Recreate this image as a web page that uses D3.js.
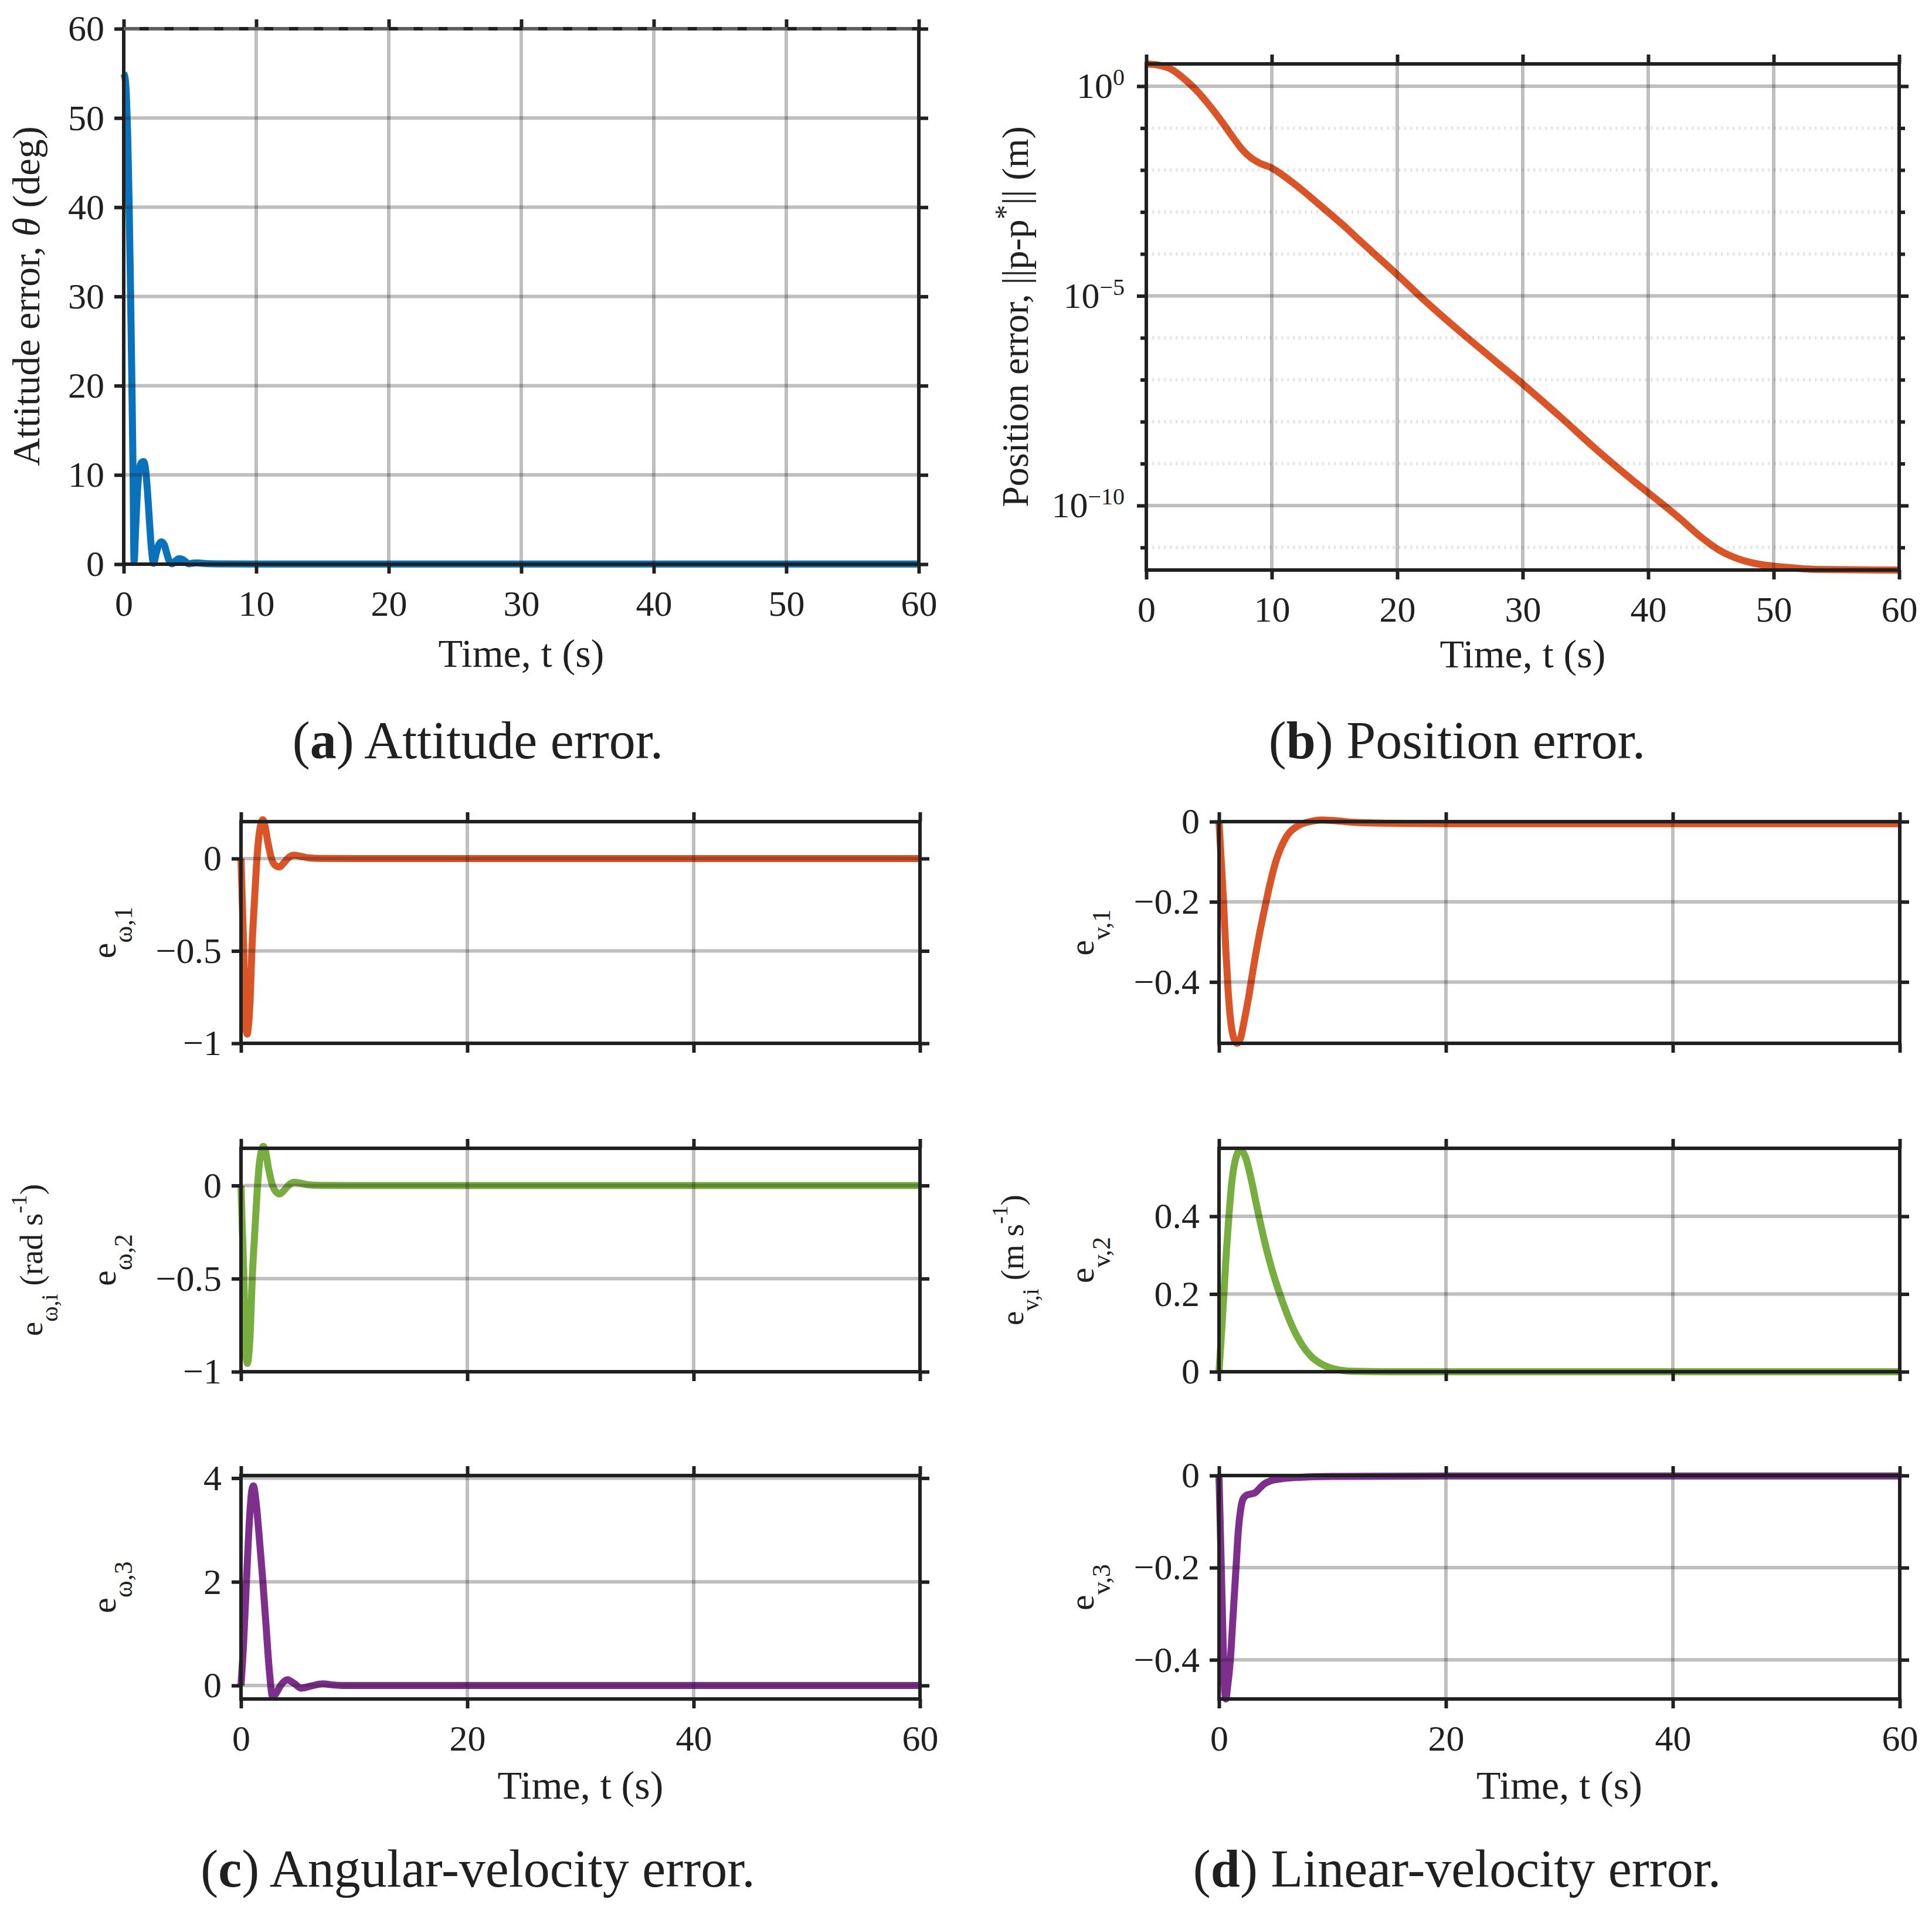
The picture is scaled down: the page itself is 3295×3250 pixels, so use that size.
<!DOCTYPE html>
<html>
<head>
<meta charset="utf-8">
<script src="https://cdn.jsdelivr.net/npm/d3@7"></script>
<style>
  body { margin: 0; background: #fff; }
  svg text { font-family: "Liberation Serif", "Times New Roman", serif; fill: #202020; }
</style>
</head>
<body>
<svg id="fig"></svg>
<script>
// ---- data ----
// (a) attitude error, deg
const attT = [0, 0.1, 0.2, 0.3, 0.4, 0.5, 0.6, 0.7, 0.78, 0.9, 1.05, 1.2, 1.35, 1.5, 1.65, 1.8, 1.95, 2.1, 2.25,
  2.45, 2.65, 2.85, 3.05, 3.25, 3.45, 3.65, 3.9, 4.15, 4.4, 4.65, 4.9, 5.15, 5.5, 6, 7, 10, 20, 30, 40, 50, 60];
const attV = [55, 54.5, 52.5, 48, 41, 32, 22, 11, 0.3, 4, 8.5, 10.8, 11.4, 11.5, 10.6, 8, 4.6, 1.6, 0.1,
  1.2, 2.2, 2.5, 2.2, 1.2, 0.3, 0.05, 0.35, 0.6, 0.55, 0.3, 0.05, 0.1, 0.15, 0.08, 0.04, 0.02, 0.01, 0.01, 0.01, 0.01, 0.01];

// (b) position error norm, m (log axis)
const posT = [0, 1, 2, 3, 4, 5, 6, 7, 7.7, 8.3, 9, 10, 11, 12, 14, 16, 17, 18, 20, 22, 25,
  28, 30, 33, 36, 39, 41, 42.6, 44.2, 45.7, 47.3, 48.8, 50.4, 53.5, 60];
const posV = [3.39, 3.16, 2.51, 1.51, 0.79, 0.355, 0.145, 0.055, 0.0295, 0.02, 0.0148, 0.0112, 7.1e-3, 4.2e-3,
  1.32e-3, 4.0e-4, 2.1e-4, 1.12e-4, 3.2e-5, 8.7e-6, 1.41e-6, 2.5e-7, 7.9e-8, 1.3e-8, 2.0e-9, 3.5e-10,
  1.17e-10, 4.7e-11, 1.78e-11, 8.5e-12, 5.2e-12, 4.0e-12, 3.5e-12, 3.0e-12, 2.9e-12];

// (c) angular-velocity error components, rad/s
const w1T = [0, 0.1, 0.23, 0.36, 0.46, 0.55, 0.65, 0.78, 0.98, 1.2, 1.41, 1.6, 1.78, 1.93, 2.1, 2.4, 2.7, 3.0,
  3.4, 3.8, 4.2, 4.7, 5.3, 6, 7, 10, 20, 40, 60];
const w1V = [0, -0.2, -0.47, -0.8, -0.93, -0.95, -0.91, -0.8, -0.47, -0.22, 0, 0.13, 0.19, 0.21, 0.18, 0.08, 0,
  -0.035, -0.045, -0.022, 0.005, 0.018, 0.012, 0.004, 0.001, 0, 0, 0, 0];
const w2T = [0, 0.1, 0.24, 0.37, 0.47, 0.57, 0.67, 0.8, 1.0, 1.23, 1.44, 1.63, 1.82, 1.97, 2.14, 2.44, 2.74, 3.04,
  3.42, 3.82, 4.22, 4.72, 5.3, 6, 7, 10, 20, 40, 60];
const w2V = [0, -0.2, -0.46, -0.79, -0.93, -0.955, -0.92, -0.81, -0.49, -0.24, -0.02, 0.12, 0.19, 0.21, 0.19, 0.09,
  0.01, -0.03, -0.045, -0.025, 0.003, 0.017, 0.012, 0.004, 0.001, 0, 0, 0, 0];
const w3T = [0, 0.25, 0.5, 0.75, 0.95, 1.1, 1.3, 1.6, 1.9, 2.2, 2.5, 2.8, 3.1, 3.5, 4.1, 4.7, 5.3, 6.2, 7.2, 8.2,
  9, 12, 20, 40, 60];
const w3V = [0, 0.9, 2.1, 3.2, 3.75, 3.85, 3.6, 2.9, 2.1, 1.2, 0.3, -0.22, -0.15, 0, 0.11, 0.04, -0.05, -0.01,
  0.03, 0.01, 0, 0, 0, 0, 0];

// (d) linear-velocity error components, m/s
const v1T = [0, 0.2, 0.4, 0.6, 0.8, 1.0, 1.3, 1.6, 1.9, 2.2, 2.6, 3.0, 3.5, 4.0, 4.5, 5.0, 5.5, 6, 7, 8, 9, 10,
  12, 15, 20, 40, 60];
const v1V = [0, -0.1, -0.2, -0.32, -0.42, -0.49, -0.54, -0.553, -0.54, -0.5, -0.44, -0.37, -0.29, -0.22, -0.155,
  -0.1, -0.062, -0.035, -0.01, 0, 0.004, 0.003, -0.002, -0.004, -0.005, -0.005, -0.005];
const v2T = [0, 0.2, 0.43, 0.65, 0.87, 1.1, 1.4, 1.85, 2.3, 2.8, 3.3, 3.9, 4.6, 5.6, 6.4, 7.3, 8.1, 8.9, 9.7,
  10.5, 12, 15, 20, 40, 60];
const v2V = [0, 0.09, 0.2, 0.31, 0.4, 0.48, 0.54, 0.57, 0.555, 0.5, 0.43, 0.35, 0.27, 0.18, 0.12, 0.07, 0.04,
  0.022, 0.011, 0.005, 0.001, 0, 0, 0, 0];
const v3T = [0, 0.1, 0.2, 0.3, 0.4, 0.5, 0.6, 0.75, 1.0, 1.25, 1.5, 1.7, 1.9, 2.1, 2.4, 2.8, 3.2, 3.6, 4.0, 4.5,
  5.5, 7, 10, 20, 40, 60];
const v3V = [0, -0.1, -0.2, -0.3, -0.4, -0.47, -0.485, -0.46, -0.4, -0.3, -0.2, -0.12, -0.075, -0.052, -0.043,
  -0.04, -0.037, -0.027, -0.018, -0.012, -0.007, -0.004, -0.002, -0.001, -0.001, -0.001];

// tick values
const timeTicksTop = [0, 10, 20, 30, 40, 50, 60];
const timeTicksBottom = [0, 20, 40, 60];
const attTicks = [0, 10, 20, 30, 40, 50, 60];
const posTicks = [1e-10, 1e-5, 1];
const posMinor = [1e-11, 1e-9, 1e-8, 1e-7, 1e-6, 1e-4, 1e-3, 1e-2, 1e-1];
const w12Ticks = [-1, -0.5, 0];
const w3Ticks = [0, 2, 4];
const v13Ticks = [-0.4, -0.2, 0];
const v2Ticks = [0, 0.2, 0.4];

// ---- figure ----
const W = 3295, H = 3250;
const FONT = '"Liberation Serif", "Times New Roman", serif';
const INK = "#202020", GRID = "rgb(38,30,30)";
const BLUE = "#0a72ba", ORANGE = "#d95427", GREEN = "#78ad3f", PURPLE = "#7e2f8e";
const TICK = 16, LINE_W = 12;

const svg = d3.select("#fig")
    .attr("width", W)
    .attr("height", H)
    .attr("viewBox", `0 0 ${W} ${H}`)
    .style("font-family", FONT);
svg.append("rect").attr("width", W).attr("height", H).attr("fill", "#fff");

// tidy a d3 axis into the thick MATLAB look
function styleAxis(sel) {
    sel.attr("font-size", 62).attr("font-family", null).attr("color", INK);
    sel.select(".domain").remove();
    sel.selectAll(".tick line").attr("stroke-width", 6);
    sel.selectAll(".tick text").style("font-family", FONT).attr("fill", INK);
}

function drawPanel(p) {
    let g = svg.append("g");
    let x = d3.scaleLinear().domain([0, 60]).range([p.x0, p.x1]);
    let y = (p.log ? d3.scaleLog() : d3.scaleLinear()).domain(p.yDomain).range([p.y1, p.y0]);

    // the series
    let line = d3.line()
        .x(d => x(d[0]))
        .y(d => y(d[1]))
        .curve(d3.curveMonotoneX);
    g.append("path")
        .datum(d3.zip(p.t, p.v))
        .attr("d", line)
        .attr("fill", "none")
        .attr("stroke", p.color)
        .attr("stroke-width", LINE_W)
        .attr("stroke-linejoin", "round");

    // minor (dotted) grid for the log panel
    if (p.minor) {
        g.append("g").selectAll("line").data(p.minor).join("line")
            .attr("x1", p.x0).attr("x2", p.x1)
            .attr("y1", d => y(d)).attr("y2", d => y(d))
            .attr("stroke", GRID).attr("stroke-opacity", 0.11)
            .attr("stroke-width", 6).attr("stroke-dasharray", "3.5,6.5");
    }

    // grid sits on top of the data, as with Layer = top
    let grid = g.append("g")
        .attr("stroke", GRID).attr("stroke-opacity", 0.29).attr("stroke-width", 6);
    grid.selectAll(".gx").data(p.xTicks).join("line").attr("class", "gx")
        .attr("x1", d => x(d)).attr("x2", d => x(d))
        .attr("y1", p.y0).attr("y2", p.y1);
    grid.selectAll(".gy").data(p.yTicks).join("line").attr("class", "gy")
        .attr("x1", p.x0).attr("x2", p.x1)
        .attr("y1", d => y(d)).attr("y2", d => y(d));

    // box
    g.append("rect")
        .attr("x", p.x0).attr("y", p.y0)
        .attr("width", p.x1 - p.x0).attr("height", p.y1 - p.y0)
        .attr("fill", "none").attr("stroke", INK).attr("stroke-width", 6);

    // ticks on all four sides, pointing out
    g.append("g").attr("transform", `translate(0,${p.y1})`)
        .call(d3.axisBottom(x).tickValues(p.xTicks).tickSize(TICK).tickPadding(28)
            .tickFormat(p.xLabels ? d3.format("") : ""))
        .call(styleAxis);
    g.append("g").attr("transform", `translate(0,${p.y0})`)
        .call(d3.axisTop(x).tickValues(p.xTicks).tickSize(TICK).tickFormat(""))
        .call(styleAxis);
    let left = g.append("g").attr("transform", `translate(${p.x0},0)`)
        .call(d3.axisLeft(y).tickValues(p.yTicks).tickSize(TICK).tickPadding(p.log ? 21 : 17)
            .tickFormat(p.log ? () => "" : d3.format("")))
        .call(styleAxis);
    g.append("g").attr("transform", `translate(${p.x1},0)`)
        .call(d3.axisRight(y).tickValues(p.yTicks).tickSize(TICK).tickFormat(""))
        .call(styleAxis);

    if (p.minor) {
        g.append("g").attr("transform", `translate(${p.x0},0)`)
            .call(d3.axisLeft(y).tickValues(p.minor).tickSize(10).tickFormat(""))
            .call(styleAxis);
        g.append("g").attr("transform", `translate(${p.x1},0)`)
            .call(d3.axisRight(y).tickValues(p.minor).tickSize(10).tickFormat(""))
            .call(styleAxis);
        // 10^n labels
        left.selectAll(".tick text").each(function(d) {
            let e = Math.round(Math.log10(d));
            let t = d3.select(this);
            t.append("tspan").text("10");
            t.append("tspan").attr("dy", -22).attr("font-size", 40)
                .text(e < 0 ? "\u2212" + (-e) : String(e));
        });
    }

    if (p.xTitle) {
        g.append("text")
            .attr("x", (p.x0 + p.x1) / 2).attr("y", p.y1 + p.xTitle)
            .attr("text-anchor", "middle").attr("font-size", 68)
            .text("Time, t (s)");
    }
    return {g: g, x: x, y: y};
}

// rotated y label built from pieces: {s, dy, size, it}
function yLabel(bx, cy, size, parts) {
    let t = svg.append("text")
        .attr("transform", `translate(${bx},${cy}) rotate(-90)`)
        .attr("text-anchor", "middle")
        .attr("font-size", size);
    parts.forEach(function(p) {
        t.append("tspan")
            .attr("dy", p.dy || 0)
            .attr("font-size", p.size || null)
            .attr("font-style", p.it ? "italic" : null)
            .text(p.s);
    });
}

function caption(cx, cy, letter, rest) {
    let t = svg.append("text")
        .attr("x", cx).attr("y", cy)
        .attr("text-anchor", "middle").attr("font-size", 90);
    t.append("tspan").text("(");
    t.append("tspan").attr("font-weight", "bold").text(letter);
    t.append("tspan").text(") " + rest);
}

// (a)
let pa = drawPanel({x0: 211, x1: 1567, y0: 49, y1: 962, yDomain: [0, 60],
    t: attT, v: attV, color: BLUE, xTicks: timeTicksTop, yTicks: attTicks, xLabels: true, xTitle: 175});
pa.g.append("line")
    .attr("x1", 211).attr("x2", 1567).attr("y1", pa.y(60)).attr("y2", pa.y(60))
    .attr("stroke", "#5f5f5f").attr("stroke-width", 6).attr("stroke-dasharray", "27,15.5");
yLabel(67, 505, 66, [{s: "Attitude error, "}, {s: "\u03b8", it: true}, {s: " (deg)"}]);

// (b)
drawPanel({x0: 1955, x1: 3239, y0: 109, y1: 972, yDomain: [2.9e-12, 3.39], log: true, minor: posMinor,
    t: posT, v: posV, color: ORANGE, xTicks: timeTicksTop, yTicks: posTicks, xLabels: true, xTitle: 166});
yLabel(1753, 540, 64, [{s: "Position error, ||p-p"}, {s: "*", dy: -22, size: 50}, {s: "|| (m)", dy: 22}]);

// (c) and (d) stacked rows
const rows = [[1401, 1779], [1958, 2339], [2516, 2897]];
const cX = [411, 1569], dX = [2079, 3240];

drawPanel({x0: cX[0], x1: cX[1], y0: rows[0][0], y1: rows[0][1], yDomain: [-1, 0.2],
    t: w1T, v: w1V, color: ORANGE, xTicks: timeTicksBottom, yTicks: w12Ticks});
drawPanel({x0: cX[0], x1: cX[1], y0: rows[1][0], y1: rows[1][1], yDomain: [-1, 0.2],
    t: w2T, v: w2V, color: GREEN, xTicks: timeTicksBottom, yTicks: w12Ticks});
drawPanel({x0: cX[0], x1: cX[1], y0: rows[2][0], y1: rows[2][1], yDomain: [-0.26, 4.05],
    t: w3T, v: w3V, color: PURPLE, xTicks: timeTicksBottom, yTicks: w3Ticks, xLabels: true, xTitle: 170});

drawPanel({x0: dX[0], x1: dX[1], y0: rows[0][0], y1: rows[0][1], yDomain: [-0.553, 0],
    t: v1T, v: v1V, color: ORANGE, xTicks: timeTicksBottom, yTicks: v13Ticks});
drawPanel({x0: dX[0], x1: dX[1], y0: rows[1][0], y1: rows[1][1], yDomain: [0, 0.575],
    t: v2T, v: v2V, color: GREEN, xTicks: timeTicksBottom, yTicks: v2Ticks});
drawPanel({x0: dX[0], x1: dX[1], y0: rows[2][0], y1: rows[2][1], yDomain: [-0.485, 0],
    t: v3T, v: v3V, color: PURPLE, xTicks: timeTicksBottom, yTicks: v13Ticks, xLabels: true, xTitle: 170});

// component labels
["1", "2", "3"].forEach(function(k, i) {
    let cy = (rows[i][0] + rows[i][1]) / 2;
    yLabel(197, cy, 60, [{s: "e"}, {s: "\u03c9," + k, dy: 28, size: 44}]);
    yLabel(1865, cy, 60, [{s: "e"}, {s: "v," + k, dy: 28, size: 44}]);
});
let midRow = (rows[1][0] + rows[1][1]) / 2;
yLabel(72, midRow, 55, [{s: "e"}, {s: "\u03c9,i", dy: 26, size: 40}, {s: " (rad s", dy: -26},
    {s: "-1", dy: -27, size: 38}, {s: ")", dy: 27}]);
yLabel(1745, midRow, 55, [{s: "e"}, {s: "v,i", dy: 26, size: 40}, {s: " (m s", dy: -26},
    {s: "-1", dy: -27, size: 38}, {s: ")", dy: 27}]);

// sub-figure captions
caption(815, 1293, "a", "Attitude error.");
caption(2485, 1293, "b", "Position error.");
caption(815, 3217, "c", "Angular-velocity error.");
caption(2485, 3217, "d", "Linear-velocity error.");
</script>
</body>
</html>
